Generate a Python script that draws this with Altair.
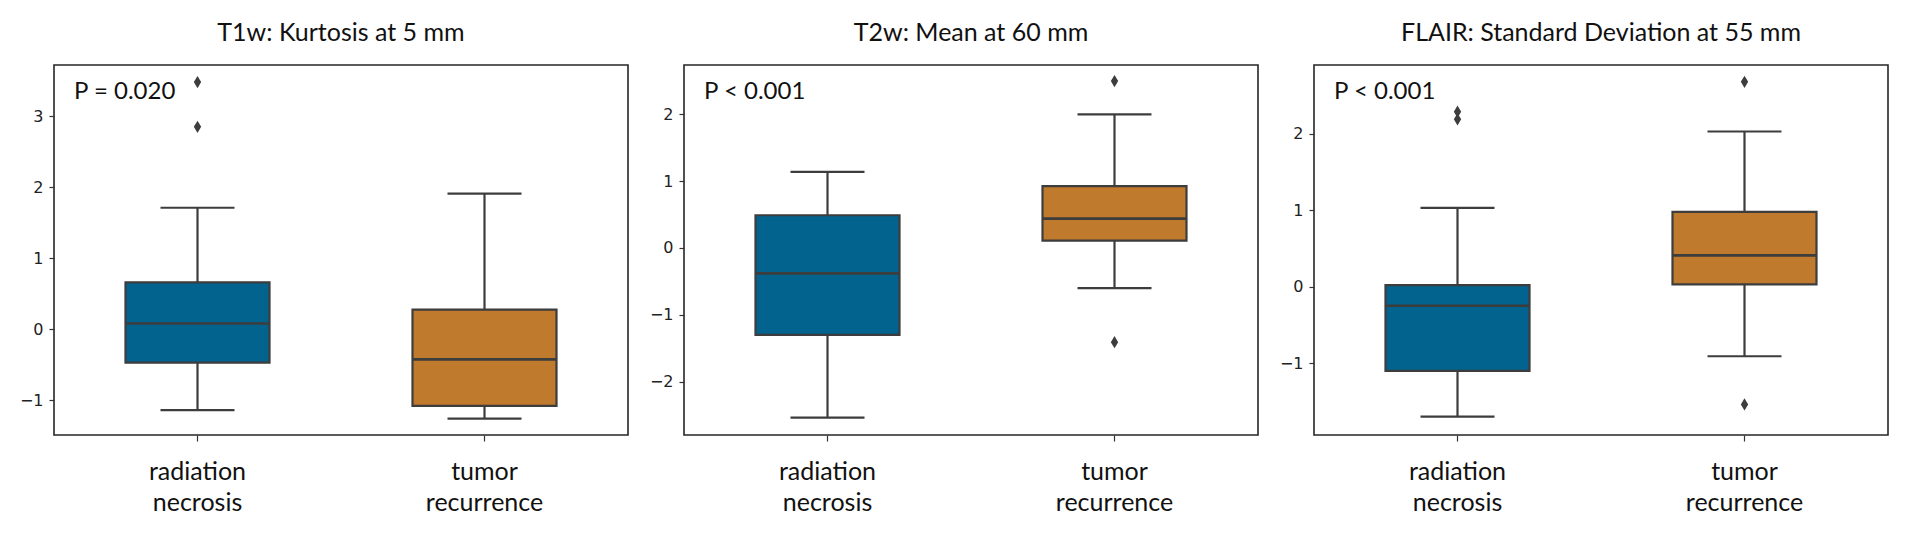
import altair as alt
import pandas as pd

groups = ["radiation necrosis", "tumor recurrence"]
titles = ["T1w: Kurtosis at 5 mm", "T2w: Mean at 60 mm", "FLAIR: Standard Deviation at 55 mm"]
pvals = ["P = 0.020", "P < 0.001", "P < 0.001"]

lower_whisker = [[-1.14, -1.26], [-2.54, -0.60], [-1.70, -0.91]]
q1 = [[-0.47, -1.08], [-1.30, 0.11], [-1.10, 0.03]]
median = [[0.08, -0.425], [-0.38, 0.44], [-0.25, 0.41]]
q3 = [[0.66, 0.275], [0.49, 0.925], [0.02, 0.98]]
upper_whisker = [[1.71, 1.91], [1.14, 2.00], [1.03, 2.03]]
outliers = [[[3.48, 2.85], []], [[], [2.50, -1.41]], [[2.29, 2.19], [2.68, -1.54]]]

y_domains = [[-1.49, 3.72], [-2.80, 2.74], [-1.94, 2.90]]
y_ticks = [[-1, 0, 1, 2, 3], [-2, -1, 0, 1, 2], [-1, 0, 1, 2]]

BLUE = "#03638F"
ORANGE = "#BF7A2E"
EDGE = "#3d3d3d"
W, H = 574, 370
BOXW, CAPW = 144, 74


def panel(i):
    box_df = pd.DataFrame({
        "group": groups,
        "lo": lower_whisker[i],
        "q1": q1[i],
        "med": median[i],
        "q3": q3[i],
        "hi": upper_whisker[i],
    })
    out_df = pd.DataFrame(
        [{"group": g, "v": v} for g, vs in zip(groups, outliers[i]) for v in vs],
        columns=["group", "v"],
    )
    txt_df = pd.DataFrame({"label": [pvals[i]]})

    x = alt.X(
        "group:N",
        sort=groups,
        scale=alt.Scale(domain=groups, paddingInner=0, paddingOuter=0),
        axis=alt.Axis(
            title=None, labelAngle=0, labelExpr="split(datum.label, ' ')",
            labelFont="Lato", labelFontSize=25, labelLineHeight=31,
            labelColor="#111111", labelPadding=18, tickSize=6, tickWidth=1.2,
            tickColor="#333333", domain=False, grid=False,
        ),
    )
    yscale = alt.Scale(domain=y_domains[i], nice=False, zero=False)
    yaxis = alt.Axis(
        title=None, values=y_ticks[i], format="d", domain=False, grid=False,
        tickSize=5, tickWidth=1.2, tickColor="#333333",
        labelFont="DejaVu Sans", labelFontSize=16, labelColor="#222222",
        labelPadding=6, minExtent=40, maxExtent=40,
    )

    base = alt.Chart(box_df)
    whisk = base.mark_rule(color=EDGE, strokeWidth=2.2).encode(
        x=x, y=alt.Y("lo:Q", scale=yscale, axis=yaxis), y2="hi:Q"
    )
    box = base.mark_bar(size=BOXW, stroke=EDGE, strokeWidth=2.2).encode(
        x=x, y=alt.Y("q1:Q"), y2="q3:Q",
        color=alt.Color("group:N", scale=alt.Scale(domain=groups, range=[BLUE, ORANGE]), legend=None),
    )
    med = base.mark_tick(size=BOXW, thickness=2.6, color=EDGE, opacity=1).encode(x=x, y="med:Q")
    cap_lo = base.mark_tick(size=CAPW, thickness=2.2, color=EDGE, opacity=1).encode(x=x, y="lo:Q")
    cap_hi = base.mark_tick(size=CAPW, thickness=2.2, color=EDGE, opacity=1).encode(x=x, y="hi:Q")
    pts = alt.Chart(out_df).mark_point(
        shape="M0,-1L0.6,0L0,1L-0.6,0Z", filled=True, size=150, color=EDGE, opacity=1
    ).encode(x=x, y="v:Q")
    ptxt = alt.Chart(txt_df).mark_text(
        align="left", baseline="middle", font="Lato", fontSize=24, color="#111111"
    ).encode(x=alt.value(20), y=alt.value(27), text="label:N")

    return alt.layer(whisk, box, med, cap_lo, cap_hi, pts, ptxt).properties(
        width=W, height=H,
        title=alt.TitleParams(
            titles[i], font="Lato", fontSize=25, fontWeight="normal",
            color="#111111", anchor="middle", offset=19,
        ),
    )


chart = alt.hconcat(panel(0), panel(1), panel(2), spacing=14).configure(
    background="white",
    padding={"top": 12, "bottom": 5, "left": 5, "right": 5},
).configure_view(stroke="#262626", strokeWidth=1.6)

chart.save("out.html", embed_options={"renderer": "svg", "actions": False})
